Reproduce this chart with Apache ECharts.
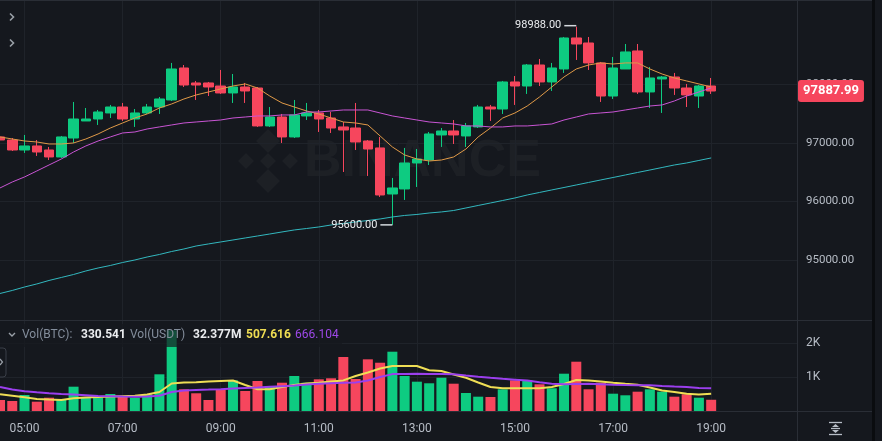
<!DOCTYPE html>
<html><head><meta charset="utf-8">
<script src="https://cdn.jsdelivr.net/npm/echarts@6/dist/echarts.min.js"></script>
<style>html,body{margin:0;padding:0;background:#15181e;}#c{width:882px;height:441px;}</style>
</head><body><div id="c"></div>
<script>
// ---------- DATA ----------
const times = ['04:30','04:45','05:00','05:15','05:30','05:45','06:00','06:15','06:30','06:45',
 '07:00','07:15','07:30','07:45','08:00','08:15','08:30','08:45','09:00','09:15',
 '09:30','09:45','10:00','10:15','10:30','10:45','11:00','11:15','11:30','11:45',
 '12:00','12:15','12:30','12:45','13:00','13:15','13:30','13:45','14:00','14:15',
 '14:30','14:45','15:00','15:15','15:30','15:45','16:00','16:15','16:30','16:45',
 '17:00','17:15','17:30','17:45','18:00','18:15','18:30','18:45','19:00','19:15',
 '19:30','19:45','20:00','20:15','20:30','20:45'];
const timeLabels = ['05:00','07:00','09:00','11:00','13:00','15:00','17:00','19:00'];

const open  = [97103,97051,96880,96949,96880,96761,97085,97376,97410,97513,
 97615,97410,97513,97615,97735,98282,98026,98026,97974,97855,
 97957,97940,97291,97444,97103,97462,97513,97427,97274,97256,
 97034,96915,96128,96214,96658,96709,97137,97205,97120,97274,
 97615,97581,98043,97974,98333,98043,98265,98795,98709,98368,
 97803,98265,98573,97872,98094,98128,97940,97803,97974];
const close = [97051,96880,96949,96846,96761,97103,97410,97410,97530,97615,
 97410,97513,97615,97752,98265,97991,97991,97957,97855,97957,
 97889,97291,97444,97103,97479,97513,97410,97256,97222,97017,
 96897,96111,96231,96658,96726,97154,97205,97137,97291,97615,
 97581,98043,97974,98333,98043,98282,98795,98692,98368,97803,
 98282,98556,97872,98111,98128,97940,97821,97974,97887.99];
const low   = [97017,96863,96829,96778,96709,96744,97000,97376,97308,97427,
 97376,97274,97496,97496,97718,97957,97735,97803,97838,97684,
 97684,97274,97274,97000,97085,97393,97188,97171,96504,96880,
 96436,96077,95600,96026,96248,96624,96932,96983,96932,97256,
 97376,97496,97650,97838,97974,97889,98197,98419,98248,97701,
 97752,98265,97838,97598,97513,97821,97615,97598,97838];
const high  = [97137,97085,97137,97051,96932,97120,97701,97598,97564,97650,
 97684,97581,97667,97786,98368,98333,98060,98043,98248,98179,
 98026,97957,97615,97496,97735,97684,97564,97530,97359,97684,
 97051,97103,96402,96915,96897,97188,97256,97393,97342,97650,
 97650,98060,98145,98350,98436,98368,98812,98988,98812,98385,
 98470,98692,98692,98299,98145,98197,98009,97991,98111];

const ma7  = [97103,97068,97034,97017,96983,96983,97000,97068,97154,97256,
 97342,97427,97496,97598,97667,97752,97821,97872,97923,97974,
 98009,97940,97803,97684,97615,97547,97496,97427,97359,97342,
 97308,97120,96932,96795,96726,96692,96709,96761,96897,97103,
 97256,97427,97513,97632,97786,97957,98128,98265,98333,98368,
 98350,98368,98368,98265,98179,98111,98060,98009,97957];
const ma25 = [96231,96333,96419,96521,96624,96726,96846,96949,97034,97103,
 97171,97188,97239,97274,97308,97342,97359,97376,97393,97427,
 97444,97462,97462,97479,97479,97530,97530,97547,97564,97564,
 97564,97513,97462,97427,97393,97359,97342,97325,97291,97291,
 97274,97274,97291,97291,97308,97325,97393,97444,97496,97513,
 97530,97564,97598,97632,97650,97718,97803,97872,97940];
const ma99 = [94427,94479,94538,94590,94650,94701,94752,94812,94863,94906,
 94957,95000,95051,95094,95145,95188,95239,95274,95308,95342,
 95376,95410,95444,95479,95513,95538,95564,95598,95624,95650,
 95675,95701,95735,95761,95778,95803,95821,95846,95889,95932,
 95974,96017,96060,96111,96154,96197,96239,96282,96325,96368,
 96410,96453,96496,96538,96581,96624,96658,96701,96744];

const volume = [324,294,471,274,391,353,715,391,391,500,
 441,391,491,1079,2373,638,521,324,638,903,
 588,882,706,832,1029,832,932,962,1588,941,
 1520,1420,1744,1029,862,815,979,803,529,421,
 412,638,903,903,785,668,1097,1450,638,832,
 509,462,568,638,568,421,491,391,330.541];
const volMa5 = [491,450,403,353,335,324,376,397,409,424,
 435,447,485,559,809,835,847,865,882,897,
 765,638,641,706,765,812,829,871,900,1029,
 1132,1250,1323,1323,1323,1197,1176,1073,979,838,
 706,668,668,668,668,706,794,912,894,868,
 829,800,773,691,603,559,509,485,507.616];
const volMa10 = [706,632,579,550,523,500,485,465,444,435,
 426,421,429,447,559,600,618,629,641,659,
 676,691,712,729,747,779,803,818,829,841,
 897,1000,1085,1091,1097,1091,1085,1079,1041,1006,
 976,947,921,894,844,803,785,794,803,788,
 773,765,759,756,738,721,706,676,666.104];

const priceTicks = [95000,96000,97000,98000];
const volTickLabels = {1000:'1K', 2000:'2K'};
const lastPrice = 97887.99;
const highMark = {time:'16:15', value:98988};
const lowMark  = {time:'12:30', value:95600};
const legendVolBtc = '330.541', legendVolUsdt = '32.377M', legendMa5 = '507.616', legendMa10 = '666.104';

// ---------- STYLE ----------
const BG = '#15181e', GL = '#1f232a', SEP = '#2a2e36';
const UP = '#0ecb81', DOWN = '#f6465d';
const AX = '#b7bdc6';
const FONT = 'Roboto, "Noto Sans", sans-serif';
const isMajor = (i, v) => timeLabels.includes(times[i] !== undefined ? times[i] : v);

const chart = echarts.init(document.getElementById('c'), null, {renderer:'canvas'});

function txt(x, y, s, color, weight, size, extra) {
  return Object.assign({type:'text', x:x, y:y, z:101, silent:true,
    style:{text:s, fill:color, font:(weight||'normal')+' '+(size||12)+'px '+FONT,
      textVerticalAlign:'middle', verticalAlign:'middle', textAlign:'left', align:'left'}}, extra||{});
}
function ln(x1,y1,x2,y2,color,w,z){
  return {type:'line', z:z||50, silent:true, shape:{x1:x1,y1:y1,x2:x2,y2:y2}, style:{stroke:color, lineWidth:w||1}};
}
function diamond(cx,cy,r){
  return {type:'polygon', z:0, silent:true, shape:{points:[[cx,cy-r],[cx+r,cy],[cx,cy+r],[cx-r,cy]]}, style:{fill:'rgba(255,255,255,0.035)'}};
}

const option = {
  backgroundColor: BG,
  animation: false,
  textStyle: {fontFamily: FONT},
  grid: [
    {left:-2, right:85, top:0, height:320},
    {left:-2, right:85, top:321, height:90}
  ],
  xAxis: [
    {type:'category', data:times, boundaryGap:false, gridIndex:0,
     axisLine:{show:false}, axisTick:{show:false}, axisLabel:{show:false},
     splitLine:{show:true, interval:isMajor, lineStyle:{color:GL}}},
    {type:'category', data:times, boundaryGap:false, gridIndex:1,
     axisLine:{show:false}, axisTick:{show:false},
     axisLabel:{show:true, interval:isMajor, color:AX, fontSize:12, margin:12},
     splitLine:{show:true, interval:isMajor, lineStyle:{color:GL}}}
  ],
  yAxis: [
    {type:'value', gridIndex:0, position:'right', min:93974, max:99444, splitNumber:5,
     axisLine:{show:false}, axisTick:{show:false},
     axisLabel:{margin:9, color:AX, fontSize:11.5, showMinLabel:false, showMaxLabel:false,
       formatter:v => priceTicks.includes(v) ? v.toFixed(2) : ''},
     splitLine:{show:true, showMinLine:false, showMaxLine:false,
       lineStyle:{color:['rgba(0,0,0,0)',GL,GL,GL,GL,'rgba(0,0,0,0)']}}},
    {type:'value', gridIndex:1, position:'right', min:0, max:2647, interval:1000,
     axisLine:{show:false}, axisTick:{show:false},
     axisLabel:{margin:9, color:AX, fontSize:12, showMinLabel:false, showMaxLabel:false,
       formatter:v => volTickLabels[v] || ''},
     splitLine:{show:true, showMinLine:false, showMaxLine:false, lineStyle:{color:GL}}}
  ],
  series: [
    {type:'candlestick', name:'BTC', xAxisIndex:0, yAxisIndex:0, barWidth:10, z:2,
     data: open.map((o,i)=>[o, close[i], low[i], high[i]]),
     itemStyle:{color:UP, color0:DOWN, borderColor:UP, borderColor0:DOWN, borderWidth:1},
     markLine:{silent:true, animation:false, symbol:['none','none'],
       lineStyle:{color:'rgba(0,0,0,0)', width:0},
       label:{show:true, position:'end', distance:1, formatter:lastPrice.toFixed(2),
         backgroundColor:DOWN, color:'#ffffff', fontSize:13, fontWeight:'bold',
         padding:[5,5,4,5], borderRadius:3, fontFamily:FONT},
       data:[{yAxis:lastPrice}]},
     markPoint:{silent:true, animation:false, data:[
       {coord:[highMark.time, highMark.value], symbol:'rect', symbolSize:[12,1.5], symbolOffset:[-6,-1],
        itemStyle:{color:'#d5d9de'},
        label:{show:true, position:'left', distance:3, formatter:highMark.value.toFixed(2), color:'#eaecef', fontSize:11}},
       {coord:[lowMark.time, lowMark.value], symbol:'rect', symbolSize:[12,1.5], symbolOffset:[-6,0],
        itemStyle:{color:'#d5d9de'},
        label:{show:true, position:'left', distance:3, formatter:lowMark.value.toFixed(2), color:'#eaecef', fontSize:11}}
     ]}},
    {type:'line', name:'MA7', data:ma7, xAxisIndex:0, yAxisIndex:0, symbol:'none', z:4,
     lineStyle:{color:'#e09a48', width:1}},
    {type:'line', name:'MA25', data:ma25, xAxisIndex:0, yAxisIndex:0, symbol:'none', z:4,
     lineStyle:{color:'#c955d4', width:1}},
    {type:'line', name:'MA99', data:ma99, xAxisIndex:0, yAxisIndex:0, symbol:'none', z:4,
     lineStyle:{color:'#33b8bf', width:1}},
    {type:'bar', name:'Vol', xAxisIndex:1, yAxisIndex:1, barWidth:10, z:2,
     data: volume.map((v,i)=>({value:v, itemStyle:{color: close[i] >= open[i] ? UP : DOWN}}))},
    {type:'line', name:'VolMA5', data:volMa5, xAxisIndex:1, yAxisIndex:1, symbol:'none', z:4,
     lineStyle:{color:'#efde55', width:2}},
    {type:'line', name:'VolMA10', data:volMa10, xAxisIndex:1, yAxisIndex:1, symbol:'none', z:4,
     lineStyle:{color:'#9b3fee', width:2}}
  ],
  graphic: [
    // watermark
    diamond(268,141,12), diamond(246,161,8), diamond(290,161,8), diamond(268,161,8), diamond(268,181,12),
    {type:'text', x:304, y:162, z:0, silent:true,
     style:{text:'BINANCE', fill:'rgba(255,255,255,0.035)', font:'bold 52px "Liberation Sans", Arial, sans-serif',
       textVerticalAlign:'middle', verticalAlign:'middle'}},
    // frame / separators
    ln(0,0.5,872,0.5,SEP,1),
    ln(0,320.5,872,320.5,SEP,1),
    ln(0,411.5,872,411.5,SEP,1),
    ln(797.5,0,797.5,441,SEP,1),
    {type:'rect', z:60, silent:true, shape:{x:872,y:0,width:3,height:441}, style:{fill:'#0a0c0f'}},
    // top-left chevrons
    {type:'polyline', z:60, silent:true, shape:{points:[[10,13.5],[13.5,17],[10,20.5]]}, style:{stroke:'#9aa0a8', lineWidth:1.6, fill:null}},
    {type:'polyline', z:60, silent:true, shape:{points:[[10,39.5],[13.5,43],[10,46.5]]}, style:{stroke:'#9aa0a8', lineWidth:1.6, fill:null}},
    // legend box
    {type:'rect', z:100, silent:true, shape:{x:0,y:324,width:342,height:23}, style:{fill:'rgba(21,24,30,0.7)'}},
    {type:'polyline', z:101, silent:true, shape:{points:[[9,333],[12,336],[15,333]]}, style:{stroke:'#9aa0a8', lineWidth:1.4, fill:null}},
    txt(22, 335, 'Vol(BTC):', '#848e9c'),
    txt(81, 335, legendVolBtc, '#eaecef', 'bold'),
    txt(130, 335, 'Vol(USDT)', '#848e9c'),
    txt(193, 335, legendVolUsdt, '#eaecef', 'bold'),
    txt(246, 335, legendMa5, '#eedc52', 'bold'),
    txt(295, 335, legendMa10, '#9d48e8'),
    // left collapsed tab
    {type:'rect', z:100, silent:true, shape:{x:-5,y:348,width:11,height:29,r:3}, style:{fill:BG, stroke:'#3a3f48', lineWidth:1}},
    {type:'polyline', z:101, silent:true, shape:{points:[[0,359],[2.5,362],[0,365]]}, style:{stroke:'#9aa0a8', lineWidth:1.2, fill:null}},
    // bottom-right autoscale icon
    ln(829,422.5,842,422.5,'#b7bdc6',1.3,60),
    ln(829,434.5,842,434.5,'#b7bdc6',1.3,60),
    ln(831,428.5,840,428.5,'#b7bdc6',1.3,60),
    {type:'polygon', z:60, silent:true, shape:{points:[[832,427],[835.5,424],[839,427]]}, style:{fill:'#b7bdc6'}},
    {type:'polygon', z:60, silent:true, shape:{points:[[832,430],[835.5,433],[839,430]]}, style:{fill:'#b7bdc6'}}
  ]
};
chart.setOption(option);
</script>
</body></html>
